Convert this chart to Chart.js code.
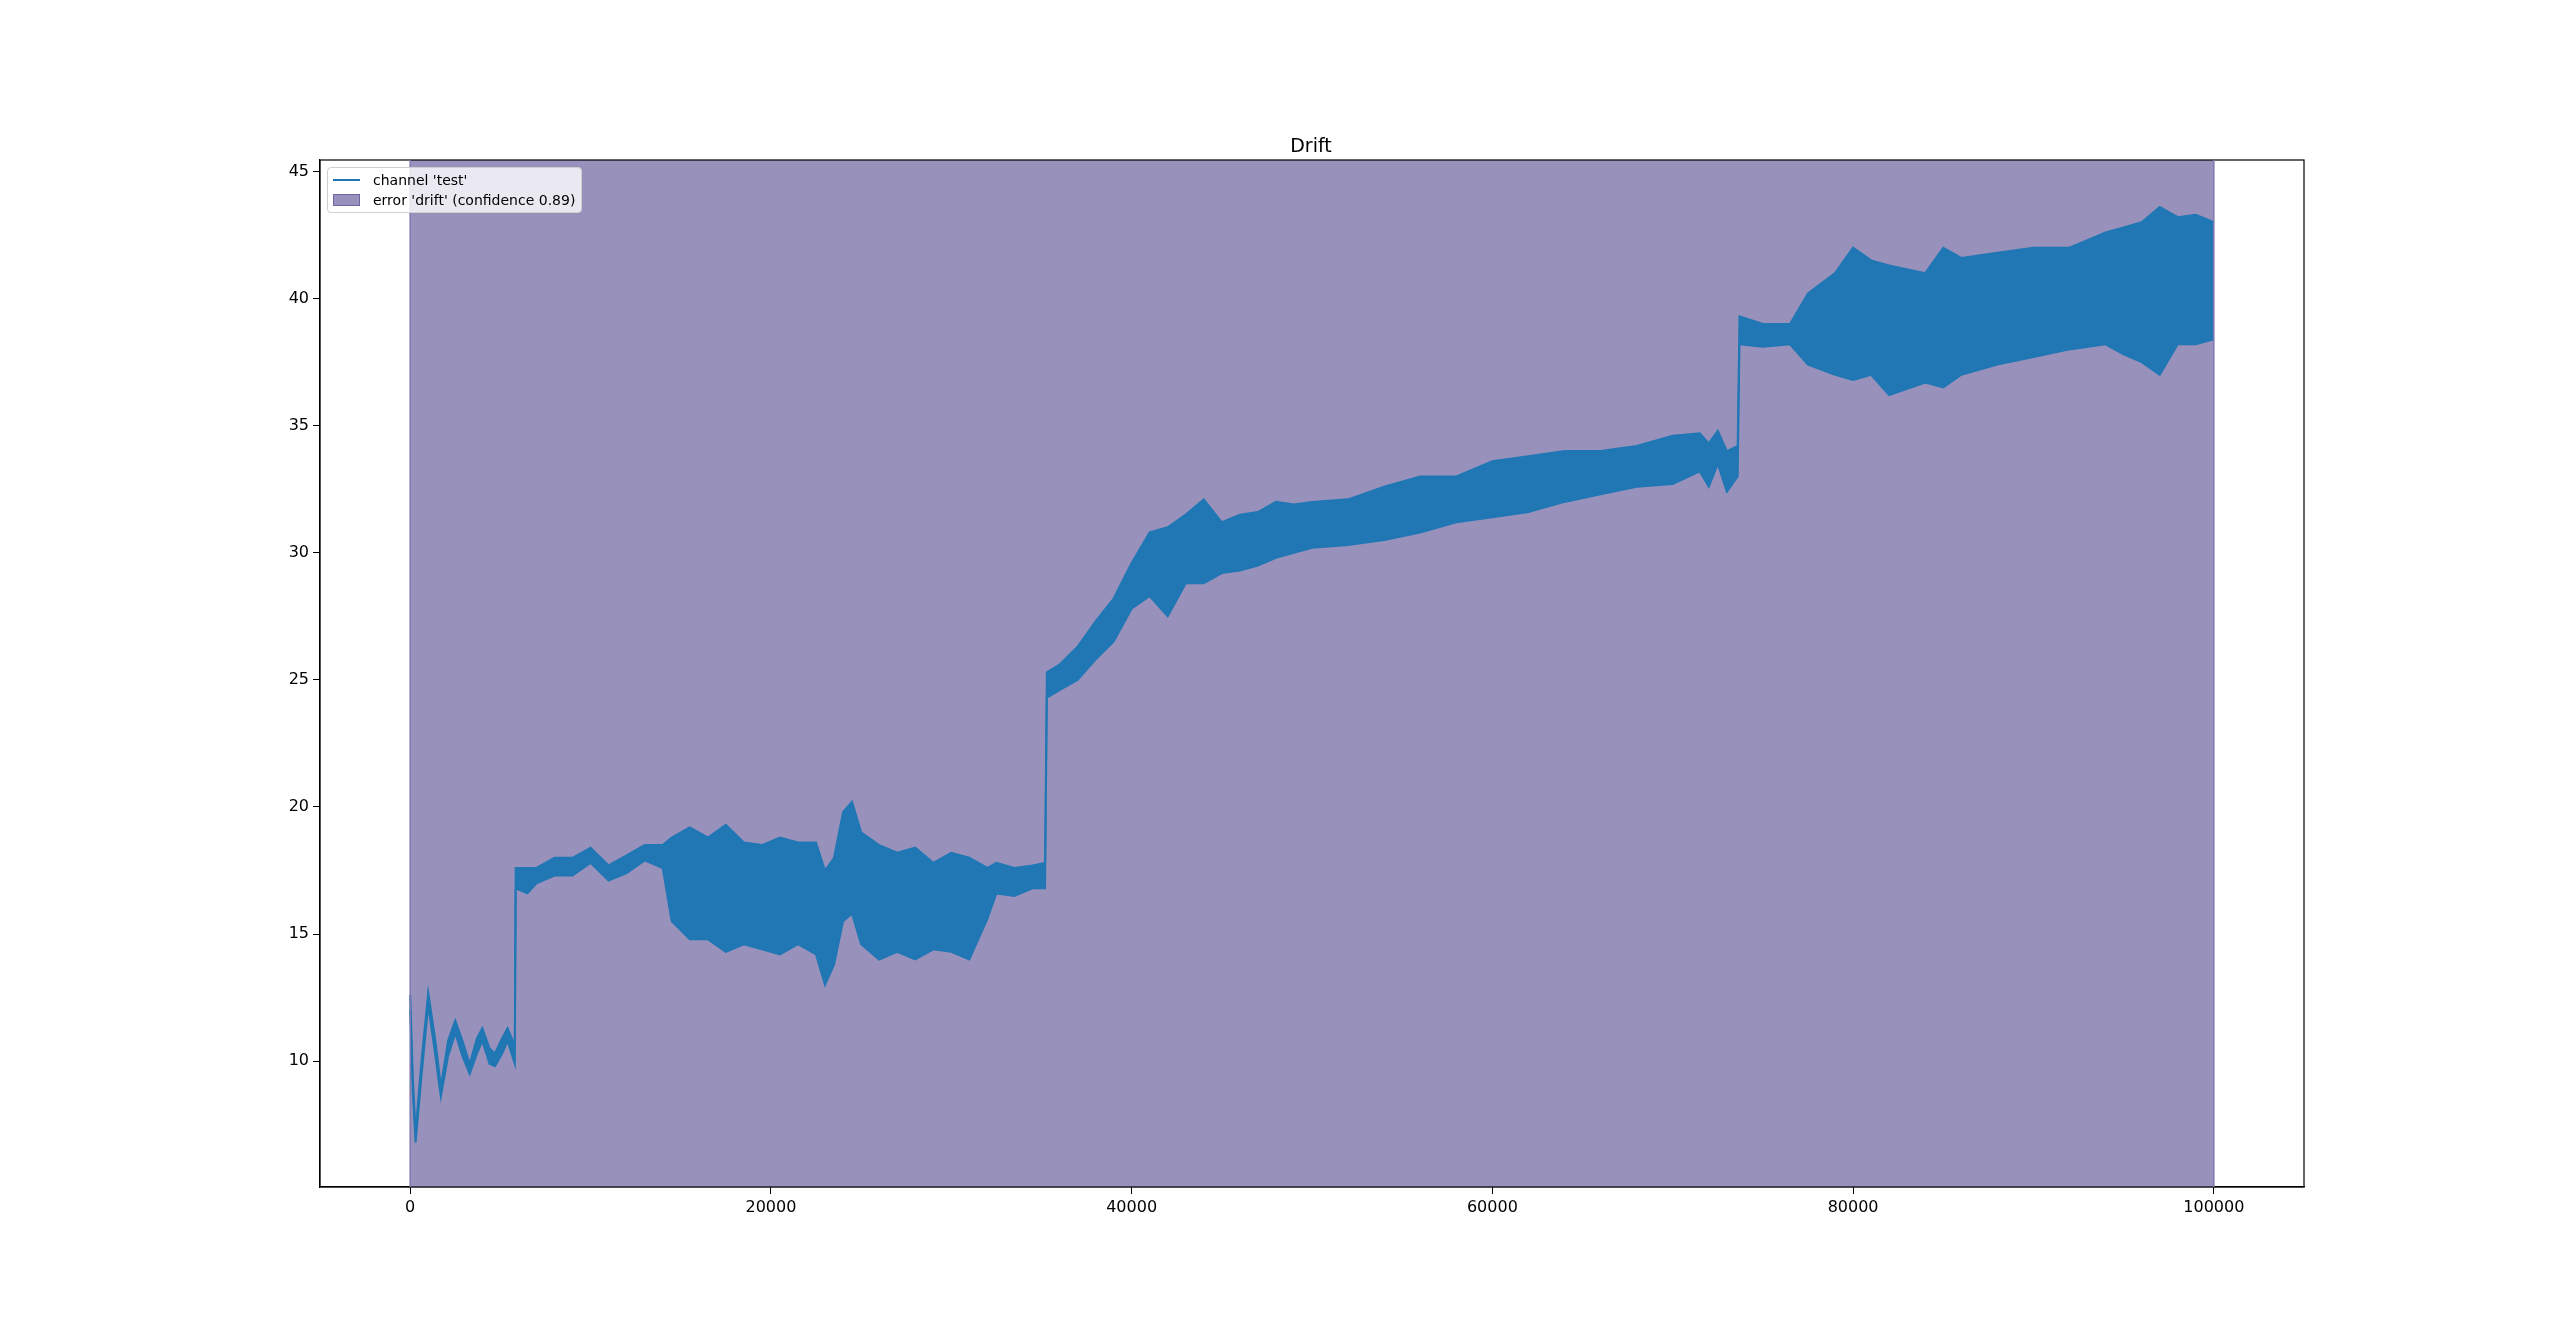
<!DOCTYPE html>
<html>
<head>
<meta charset="utf-8">
<script src="https://cdn.jsdelivr.net/npm/chart.js@4"></script>
<style>
  body { margin: 0; background: #fff; }
  #wrap { position: relative; width: 2560px; height: 1334px; }
  #title {
    position: absolute; left: 1211px; width: 200px; top: 134px; text-align: center;
    font: 19px "DejaVu Sans", sans-serif; color: #000;
  }
  #legend {
    position: absolute; left: 327px; top: 167px;
    background: rgba(255,255,255,0.8); border: 1px solid #d0d0d0; border-radius: 4px;
    font: 14px "DejaVu Sans", sans-serif; color: #000; padding: 2px 6px 2px 5px;
  }
  .row { display: flex; align-items: center; height: 20px; }
  .sw { width: 27px; margin-right: 13px; }
</style>
</head>
<body>
<div id="wrap">
  <canvas id="chart" width="2560" height="1334"></canvas>
  <div id="title">Drift</div>
  <div id="legend">
    <div class="row"><div class="sw" style="height:2px;background:#1f77b4"></div>channel 'test'</div>
    <div class="row"><div class="sw" style="height:12px;background:#9891bc;border:1px solid #6e66a3;box-sizing:border-box"></div>error 'drift' (confidence 0.89)</div>
  </div>
</div>
<script>
// sinyal channel 'test': batas bawah dan atas pita noise
const xs = [
  0, 150, 300, 600, 1000, 1400, 1700, 2100, 2500, 2900, 3300, 3700, 4000, 4400, 4700, 5100, 5400, 5800,
  5850, 6500, 7000, 8000, 9000, 10000, 11000, 12000, 13000, 14000,
  14500, 15500, 16500, 17500, 18500, 19500, 20500, 21500, 22500, 23000, 23500, 24000, 24500, 25000,
  26000, 27000, 28000, 29000, 30000, 31000, 32000, 32500, 33500, 34500, 35200,
  35300, 36000, 37000, 38000, 39000, 40000, 41000, 42000, 43000, 44000, 45000,
  46000, 47000, 48000, 49000, 50000, 52000, 54000, 56000, 58000, 60000,
  62000, 64000, 66000, 68000, 70000, 71500, 72000, 72500, 73000, 73600,
  73700, 75000, 76500, 77500, 79000, 80000, 81000, 82000, 84000, 85000,
  86000, 88000, 90000, 92000, 94000, 95000, 96000, 97000, 98000, 99000, 100000
];
const lows = [
  12.0, 8.7, 6.8, 9.2, 12.2, 10.2, 8.6, 10.2, 11.1, 10.2, 9.5, 10.3, 10.8, 9.9, 9.8, 10.3, 10.8, 9.9,
  16.8, 16.6, 17.0, 17.3, 17.3, 17.8, 17.1, 17.4, 17.9, 17.6,
  15.5, 14.8, 14.8, 14.3, 14.6, 14.4, 14.2, 14.6, 14.2, 13.0, 13.8, 15.5, 15.8, 14.6,
  14.0, 14.3, 14.0, 14.4, 14.3, 14.0, 15.6, 16.6, 16.5, 16.8, 16.8,
  24.3, 24.6, 25.0, 25.8, 26.5, 27.8, 28.3, 27.5, 28.8, 28.8, 29.2,
  29.3, 29.5, 29.8, 30.0, 30.2, 30.3, 30.5, 30.8, 31.2, 31.4,
  31.6, 32.0, 32.3, 32.6, 32.7, 33.2, 32.6, 33.5, 32.4, 33.0,
  38.2, 38.1, 38.2, 37.4, 37.0, 36.8, 37.0, 36.2, 36.7, 36.5,
  37.0, 37.4, 37.7, 38.0, 38.2, 37.8, 37.5, 37.0, 38.2, 38.2, 38.4
];
const highs = [
  12.6, 9.3, 7.2, 9.8, 12.7, 10.8, 9.0, 10.8, 11.6, 10.8, 9.9, 10.9, 11.3, 10.5, 10.3, 10.9, 11.3, 10.6,
  17.6, 17.6, 17.6, 18.0, 18.0, 18.4, 17.7, 18.1, 18.5, 18.5,
  18.8, 19.2, 18.8, 19.3, 18.6, 18.5, 18.8, 18.6, 18.6, 17.5, 18.0, 19.8, 20.2, 19.0,
  18.5, 18.2, 18.4, 17.8, 18.2, 18.0, 17.6, 17.8, 17.6, 17.7, 17.8,
  25.3, 25.6, 26.3, 27.3, 28.2, 29.6, 30.8, 31.0, 31.5, 32.1, 31.2,
  31.5, 31.6, 32.0, 31.9, 32.0, 32.1, 32.6, 33.0, 33.0, 33.6,
  33.8, 34.0, 34.0, 34.2, 34.6, 34.7, 34.3, 34.8, 34.0, 34.2,
  39.3, 39.0, 39.0, 40.2, 41.0, 42.0, 41.5, 41.3, 41.0, 42.0,
  41.6, 41.8, 42.0, 42.0, 42.6, 42.8, 43.0, 43.6, 43.2, 43.3, 43.0
];
// area error 'drift'
const spanX = [0, 100000];
const xTicks = [0, 20000, 40000, 60000, 80000, 100000];
const yTicks = [10, 15, 20, 25, 30, 35, 40, 45];
const yMin = 5.05, yMax = 45.45;

const lowPts = xs.map((x, i) => ({ x: x, y: lows[i] }));
const highPts = xs.map((x, i) => ({ x: x, y: highs[i] }));
const spanPts = spanX.map(x => ({ x: x, y: yMax }));

const font = { family: 'DejaVu Sans', size: 16 };

new Chart(document.getElementById('chart'), {
  type: 'line',
  data: {
    datasets: [
      {
        label: "error 'drift' (confidence 0.89)",
        data: spanPts,
        borderWidth: 0,
        backgroundColor: '#9891bc',
        fill: 'origin',
        pointRadius: 0,
        order: 3
      },
      {
        label: "channel 'test' low",
        data: lowPts,
        borderColor: '#1f77b4',
        borderWidth: 2,
        pointRadius: 0,
        tension: 0,
        fill: false,
        order: 2
      },
      {
        label: "channel 'test'",
        data: highPts,
        borderColor: '#1f77b4',
        borderWidth: 2,
        backgroundColor: '#2077b4',
        pointRadius: 0,
        tension: 0,
        fill: '-1',
        order: 1
      }
    ]
  },
  options: {
    responsive: false,
    devicePixelRatio: 1,
    animation: false,
    layout: { padding: { left: 0, right: 256, top: 160, bottom: 0 } },
    plugins: {
      legend: { display: false },
      tooltip: { enabled: false },
      title: { display: false }
    },
    scales: {
      x: {
        type: 'linear', min: -5000, max: 105000,
        afterBuildTicks: a => { a.ticks = xTicks.map(v => ({ value: v })); },
        afterFit: a => { a.height = 147; },
        grid: { drawOnChartArea: false, color: '#000', tickLength: 7 },
        border: { color: '#000', width: 1.2 },
        ticks: { color: '#000', font: font, padding: 4, maxRotation: 0, callback: v => String(v) }
      },
      y: {
        type: 'linear', min: yMin, max: yMax,
        afterBuildTicks: a => { a.ticks = yTicks.map(v => ({ value: v })); },
        afterFit: a => { a.width = 320; },
        grid: { drawOnChartArea: false, color: '#000', tickLength: 7 },
        border: { color: '#000', width: 1.2 },
        ticks: { color: '#000', font: font, padding: 4, callback: v => String(v) }
      }
    }
  },
  plugins: [{
    id: 'frame',
    afterDraw(c) {
      const a = c.chartArea, ctx = c.ctx;
      ctx.save();
      ctx.strokeStyle = '#000'; ctx.lineWidth = 1.2;
      ctx.strokeRect(a.left, a.top, a.right - a.left, a.bottom - a.top);
      // garis tepi area drift
      const sx = c.scales.x;
      ctx.strokeStyle = '#7d76ad'; ctx.lineWidth = 1.5;
      spanX.forEach(v => {
        const px = sx.getPixelForValue(v);
        ctx.beginPath(); ctx.moveTo(px, a.top); ctx.lineTo(px, a.bottom); ctx.stroke();
      });
      ctx.restore();
    }
  }]
});
</script>
</body>
</html>
